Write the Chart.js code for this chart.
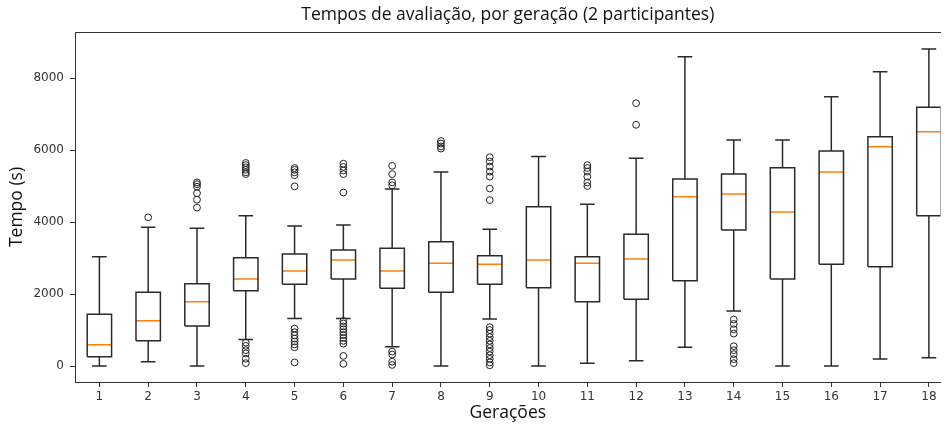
<!DOCTYPE html>
<html><head><meta charset="utf-8">
<script src="https://cdn.jsdelivr.net/npm/chart.js@4"></script>
<style>
html,body{margin:0;padding:0;background:#fff;overflow:hidden;width:945px;height:427px}
#wrap{position:absolute;left:0;top:0;width:945px;height:427px}
</style>
</head><body>
<div id="wrap"><canvas id="c" width="945" height="427"></canvas></div>
<script>
const generations = [1,2,3,4,5,6,7,8,9,10,11,12,13,14,15,16,17,18];
const whiskerLow  = [0, 120, 0, 740, 1320, 1320, 537, 0, 1306, 0, 74, 148, 519, 1528, 0, 0, 194, 231];
const q1          = [258, 704, 1111, 2093, 2269, 2417, 2157, 2046, 2269, 2176, 1787, 1852, 2370, 3778, 2417, 2824, 2759, 4176];
const medians     = [592, 1259, 1787, 2417, 2639, 2944, 2639, 2852, 2824, 2944, 2852, 2972, 4704, 4778, 4278, 5389, 6093, 6509];
const q3          = [1436, 2046, 2287, 3009, 3111, 3222, 3268, 3454, 3065, 4426, 3037, 3657, 5194, 5333, 5509, 5972, 6370, 7185];
const whiskerHigh = [3036, 3852, 3824, 4176, 3889, 3917, 4920, 5390, 3796, 5820, 4490, 5768, 8593, 6278, 6278, 7481, 8176, 8806];
const outliers = [
  [],
  [4130],
  [5100, 5050, 4980, 4800, 4620, 4400],
  [5640, 5580, 5520, 5450, 5380, 5330, 650, 560, 440, 350, 200, 80],
  [5500, 5450, 5380, 5300, 4990, 1040, 940, 850, 760, 680, 600, 520, 100],
  [5620, 5530, 5430, 5330, 4820, 1250, 1180, 1100, 1020, 940, 860, 780, 700, 620, 280, 60],
  [5560, 5330, 5100, 5020, 400, 320, 120, 30],
  [6250, 6180, 6100, 6040],
  [5800, 5680, 5540, 5400, 5260, 4930, 4610, 1080, 1000, 900, 800, 700, 600, 500, 400, 300, 200, 100, 20],
  [],
  [5580, 5500, 5400, 5260, 5100, 5000],
  [7300, 6700],
  [],
  [1290, 1170, 1020, 900, 550, 440, 330, 190, 80],
  [], [], [], []
];
const yTickValues = [0, 2000, 4000, 6000, 8000];
const titleText = 'Tempos de avaliação, por geração (2 participantes)';
const xTitle = 'Gerações';
const yTitle = 'Tempo (s)';

const HALF_BOX = 0.25, HALF_CAP = 0.15;
const boxPts = [], whiskerPts = [], medianPts = [], outlierPts = [];
generations.forEach((g, i) => {
  boxPts.push({x:g-HALF_BOX,y:q1[i]},{x:g+HALF_BOX,y:q1[i]},{x:g+HALF_BOX,y:q3[i]},{x:g-HALF_BOX,y:q3[i]},{x:g-HALF_BOX,y:q1[i]},{x:g,y:null});
  whiskerPts.push({x:g,y:q1[i]},{x:g,y:whiskerLow[i]},{x:g,y:null},
                  {x:g-HALF_CAP,y:whiskerLow[i]},{x:g+HALF_CAP,y:whiskerLow[i]},{x:g,y:null},
                  {x:g,y:q3[i]},{x:g,y:whiskerHigh[i]},{x:g,y:null},
                  {x:g-HALF_CAP,y:whiskerHigh[i]},{x:g+HALF_CAP,y:whiskerHigh[i]},{x:g,y:null});
  medianPts.push({x:g-HALF_BOX,y:medians[i]},{x:g+HALF_BOX,y:medians[i]},{x:g,y:null});
  outliers[i].forEach(v => outlierPts.push({x:g,y:v}));
});

const lineDs = (data, color, w) => ({data, showLine:true, spanGaps:false, borderColor:color, borderWidth:w,
  pointRadius:0, pointHoverRadius:0, fill:false, tension:0, borderJoinStyle:'miter'});

const spine = {display:true, color:'#333', width:1};
new Chart(document.getElementById('c'), {
  type:'scatter',
  data:{datasets:[
    lineDs(whiskerPts, '#2a2a2a', 1.5),
    lineDs(boxPts, '#2a2a2a', 1.5),
    lineDs(medianPts, '#ff7f0e', 1.5),
    {data:outlierPts, showLine:false, pointStyle:'circle', pointRadius:3.4, pointBorderWidth:1,
     pointBorderColor:'#222', pointBackgroundColor:'rgba(0,0,0,0)', pointHoverRadius:3.4}
  ]},
  options:{
    responsive:false, animation:false, events:[],
    layout:{padding:0},
    plugins:{
      legend:{display:false}, tooltip:{enabled:false},
      title:{display:true, text:titleText, fullSize:false, color:'#111',
             font:{family:'Open Sans', size:17.5, weight:'normal'}, padding:{top:5, bottom:6}}
    },
    scales:{
      x:{type:'linear', position:'bottom', min:0.5, max:18.24,
         afterBuildTicks:s=>{ s.ticks = generations.map(v=>({value:v})); },
         afterFit:s=>{ s.height = 45; },
         ticks:{color:'#333', font:{family:'DejaVu Sans', size:12}, padding:3, maxRotation:0, autoSkip:false,
                callback:v=>String(v)},
         grid:{drawOnChartArea:false, drawTicks:true, tickLength:5, color:'#333'},
         border:spine,
         title:{display:true, text:xTitle, color:'#111', font:{family:'Open Sans', size:17.5}, padding:{top:3, bottom:3}}},
      y:{type:'linear', position:'left', min:-444, max:9278,
         afterBuildTicks:s=>{ s.ticks = yTickValues.map(v=>({value:v})); },
         afterFit:s=>{ s.width = 75; },
         ticks:{color:'#333', font:{family:'DejaVu Sans', size:12}, padding:6, callback:v=>String(v)},
         grid:{drawOnChartArea:false, drawTicks:true, tickLength:5, color:'#333'},
         border:spine,
         title:{display:true, text:yTitle, color:'#111', font:{family:'Open Sans', size:17.5}, padding:{top:7, bottom:7}}},
      x2:{type:'linear', position:'top', min:0, max:1, afterFit:s=>{ s.height = 0; },
          ticks:{display:false}, grid:{display:false}, border:spine}
    }
  }
});
</script>
</body></html>
